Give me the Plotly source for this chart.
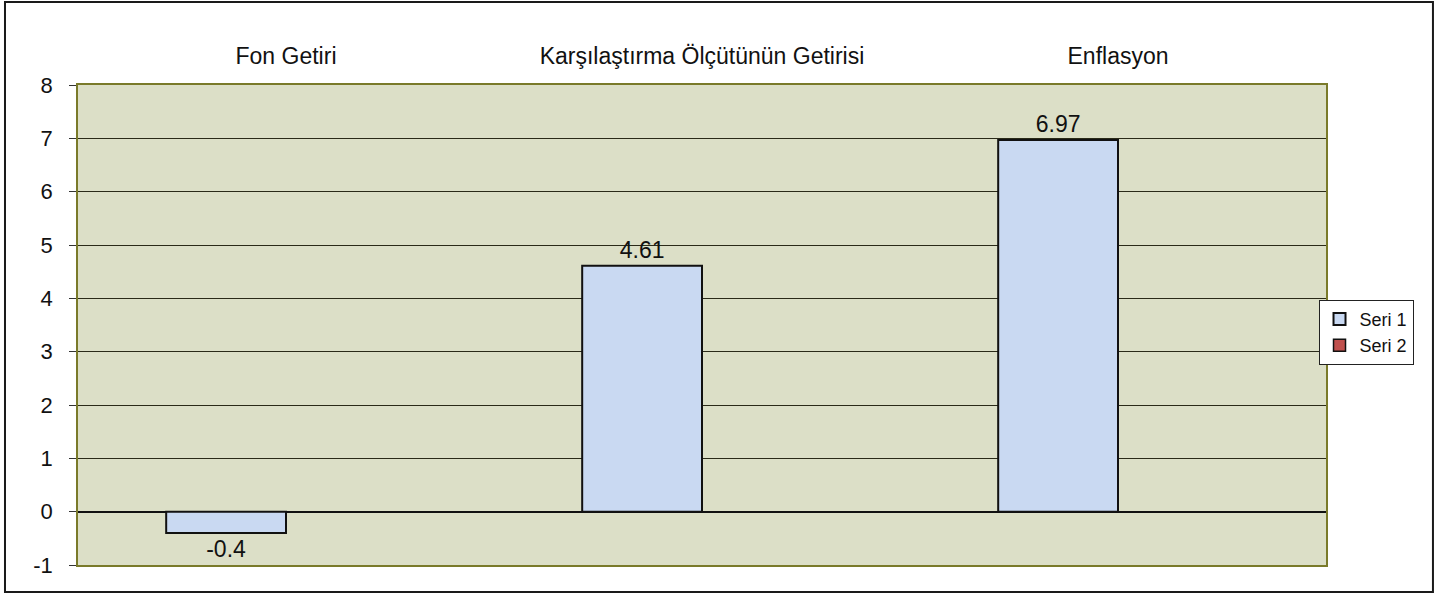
import plotly.graph_objects as go

categories = ["Fon Getiri", "Karşılaştırma Ölçütünün Getirisi", "Enflasyon"]
seri1 = [-0.4, 4.61, 6.97]
seri2 = [None, None, None]
seri1_labels = ["-0.4", "4.61", "6.97"]
y_ticks = [-1, 0, 1, 2, 3, 4, 5, 6, 7, 8]
y_tick_labels = ["-1", "0", "1", "2", "3", "4", "5", "6", "7", "8"]

FONT = "Liberation Sans, Arial, sans-serif"

fig = go.Figure()
fig.add_trace(go.Bar(
    x=categories, y=seri1, name="Seri 1",
    marker=dict(color="#c9d9f2", line=dict(color="#111111", width=2)),
    text=seri1_labels, textposition="outside", cliponaxis=False,
    textfont=dict(family=FONT, size=23, color="#111111"),
))
fig.add_trace(go.Bar(
    x=categories, y=seri2, name="Seri 2",
    marker=dict(color="#c0504d", line=dict(color="#111111", width=1.5)),
))

fig.update_layout(
    width=1434, height=595,
    margin=dict(l=78, r=108, t=85, b=30),
    paper_bgcolor="white",
    plot_bgcolor="#dcdfc7",
    barmode="group", bargap=0.424, bargroupgap=0,
    font=dict(family=FONT, size=22, color="#111111"),
    showlegend=True,
    legend=dict(
        x=0.994, y=0.485, xanchor="left", yanchor="middle",
        bgcolor="white", bordercolor="#222222", borderwidth=1,
        font=dict(family=FONT, size=18, color="#111111"),
        itemwidth=30, tracegroupgap=0,
    ),
    xaxis=dict(
        side="top", showgrid=False, ticks="",
        showline=True, linecolor="#7a7a2a", linewidth=1.5, mirror=True,
        tickfont=dict(family=FONT, size=23),
        ticklabelstandoff=10,
    ),
    yaxis=dict(
        range=[-1, 8], tickvals=y_ticks, ticktext=y_tick_labels,
        ticks="outside", ticklen=7, tickcolor="#333333",
        showgrid=True, gridcolor="#2a2a18", gridwidth=1.2,
        zeroline=True, zerolinecolor="#111111", zerolinewidth=1.5,
        showline=True, linecolor="#7a7a2a", linewidth=1.5, mirror=True,
        tickfont=dict(family=FONT, size=22),
        ticklabelstandoff=12,
    ),
    shapes=[dict(
        type="rect", xref="paper", yref="paper",
        x0=-0.0585, x1=1.0857, y0=-0.056, y1=1.173,
        line=dict(color="#1a1a1a", width=2), fillcolor="rgba(0,0,0,0)",
        layer="below",
    )],
)

fig.write_html(
    "out.html",
    config={"displayModeBar": False},
    post_script="document.body.style.margin='0';document.body.style.overflow='hidden';",
)
